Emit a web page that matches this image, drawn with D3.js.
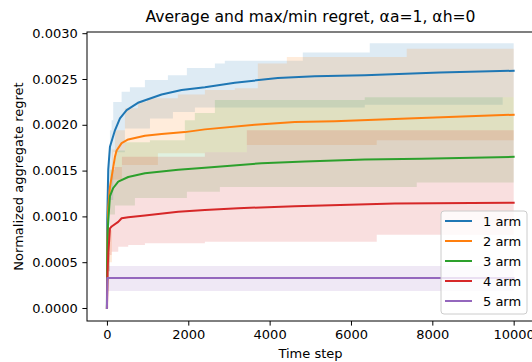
<!DOCTYPE html>
<html>
<head>
<meta charset="utf-8">
<script src="https://cdn.jsdelivr.net/npm/d3@7"></script>
<style>
  html, body { margin: 0; padding: 0; background: #fff; }
  svg { display: block; }
  text { font-family: "DejaVu Sans", sans-serif; fill: #000; }
</style>
</head>
<body>
<svg id="chart" width="532" height="362"></svg>
<script>
// ---- data ----
const armLabels = ["1 arm", "2 arm", "3 arm", "4 arm", "5 arm"];
const xTicks = [0, 2000, 4000, 6000, 8000, 10000];
const yTicks = [0, 0.0005, 0.001, 0.0015, 0.002, 0.0025, 0.003];

// mean curves
const meanT1 = [0, 7, 32, 74, 197, 320, 484, 762, 1344, 1835, 2408, 3145, 4201, 5111, 6339, 8182, 10000];
const meanV1 = [0, 0.00096, 0.00151, 0.00176, 0.00194, 0.00207, 0.00216, 0.00224, 0.00233, 0.00238, 0.00241, 0.00246, 0.00251, 0.00253, 0.00254, 0.00257, 0.00259];
const meanT2 = [0, 12, 32, 74, 197, 238, 361, 523, 934, 1344, 1916, 2408, 3636, 4619, 5602, 7396, 10000];
const meanV2 = [0, 0.00074, 0.0011, 0.00132, 0.00165, 0.00172, 0.0018, 0.00184, 0.00188, 0.0019, 0.00192, 0.00195, 0.002, 0.00203, 0.00204, 0.00207, 0.00211];
const meanT3 = [0, 7, 25, 74, 155, 278, 523, 934, 1752, 2408, 3799, 4865, 6339, 7733, 10000];
const meanV3 = [0, 0.00052, 0.0009, 0.00122, 0.00131, 0.00138, 0.00143, 0.00147, 0.00151, 0.00153, 0.00158, 0.0016, 0.00162, 0.00163, 0.00165];
const meanT4 = [0, 15, 32, 74, 115, 278, 361, 523, 934, 1752, 2408, 3226, 4619, 7076, 10000];
const meanV4 = [0, 0.0004, 0.00058, 0.00087, 0.00089, 0.00094, 0.00098, 0.00099, 0.00101, 0.00105, 0.00107, 0.00109, 0.00111, 0.00114, 0.00115];
const meanT5 = [0, 10, 10000];
const meanV5 = [0, 0.000328, 0.000328];

// max envelopes (step values)
const maxT1 = [0, 12, 37, 74, 115, 155, 361, 565, 934, 1499, 1966, 2654, 2899, 4816, 6462, 10000];
const maxV1 = [0, 0.00063, 0.00161, 0.00194, 0.00205, 0.00225, 0.00236, 0.00241, 0.00249, 0.00254, 0.00262, 0.00267, 0.0027, 0.00279, 0.00289, 0.00289];
const maxT2 = [0, 25, 123, 197, 442, 762, 983, 1744, 2408, 3145, 3710, 4423, 7371, 10000];
const maxV2 = [0, 0.00085, 0.00173, 0.00194, 0.00218, 0.00225, 0.00229, 0.00233, 0.00238, 0.0024, 0.00267, 0.00274, 0.00283, 0.00283];
const maxT3 = [0, 25, 74, 197, 442, 1057, 1916, 2162, 2654, 6339, 10000];
const maxV3 = [0, 0.0006, 0.00151, 0.00172, 0.00181, 0.00183, 0.00205, 0.00213, 0.00227, 0.0023, 0.0023];
const maxT4 = [0, 25, 74, 123, 369, 2408, 3440, 10000];
const maxV4 = [0, 0.00085, 0.0014, 0.00154, 0.00165, 0.0017, 0.00194, 0.00194];
const maxT5 = [0, 10, 10000];
const maxV5 = [0, 0.000459, 0.000459];

// min envelopes (step values)
const minT1 = [0, 12, 37, 74, 155, 442, 1057, 1622, 2162, 6339, 9730, 10000];
const minV1 = [0, 0.0003, 0.0009, 0.00118, 0.0017, 0.00196, 0.00207, 0.00214, 0.00219, 0.00222, 0.0023, 0.0023];
const minT2 = [0, 25, 123, 369, 1253, 2408, 3440, 6634, 10000];
const minV2 = [0, 0.0005, 0.0014, 0.00156, 0.00169, 0.0017, 0.00178, 0.00183, 0.00183];
const minT3 = [0, 25, 74, 197, 688, 1966, 2777, 7617, 10000];
const minV3 = [0, 0.0004, 0.00102, 0.00112, 0.0012, 0.00127, 0.00132, 0.00137, 0.00137];
const minT4 = [0, 37, 74, 115, 278, 523, 934, 2408, 6634, 10000];
const minV4 = [0, 0.0004, 0.000579, 0.000615, 0.000669, 0.000688, 0.000706, 0.000724, 0.0008, 0.0008];
const minT5 = [0, 10, 10000];
const minV5 = [0, 0.000186, 0.000186];

// ---- styling ----
const colors = ["#1f77b4", "#ff7f0e", "#2ca02c", "#d62728", "#9467bd"];
const meanTs = [meanT1, meanT2, meanT3, meanT4, meanT5];
const meanVs = [meanV1, meanV2, meanV3, meanV4, meanV5];
const maxTs = [maxT1, maxT2, maxT3, maxT4, maxT5];
const maxVs = [maxV1, maxV2, maxV3, maxV4, maxV5];
const minTs = [minT1, minT2, minT3, minT4, minT5];
const minVs = [minV1, minV2, minV3, minV4, minV5];

const svg = d3.select("#chart");
const L = 87, R = 534, T = 32, B = 321;
const x = d3.scaleLinear().domain([-500, 10500]).range([L - 0.4, R]);
const y = d3.scaleLinear().domain([-0.000142, 0.003013]).range([B, T]);

const plot = svg.append("g");
const clipId = "clipPlot";
svg.append("defs").append("clipPath").attr("id", clipId)
  .append("rect").attr("x", L).attr("y", T).attr("width", R - L).attr("height", B - T);

// step lookup helper
function stepAt(ts, vs, t) {
  let v = vs[0];
  for (let i = 0; i < ts.length; i++) { if (ts[i] <= t) v = vs[i]; else break; }
  return v;
}

// bands
const area = d3.area()
  .x(d => x(d.t)).y0(d => y(d.lo)).y1(d => y(d.hi))
  .curve(d3.curveStepAfter);
const bands = plot.append("g").attr("clip-path", `url(#${clipId})`);
for (let k = 0; k < 5; k++) {
  const ts = Array.from(new Set([...maxTs[k], ...minTs[k]])).sort((a, b) => a - b);
  const pts = ts.map(t => ({ t, hi: stepAt(maxTs[k], maxVs[k], t), lo: stepAt(minTs[k], minVs[k], t) }));
  bands.append("path").datum(pts)
    .attr("d", area)
    .attr("fill", colors[k]).attr("fill-opacity", 0.15).attr("stroke", "none");
}

// mean lines
const line = d3.line().x(d => x(d[0])).y(d => y(d[1]));
const lines = plot.append("g").attr("clip-path", `url(#${clipId})`);
for (let k = 0; k < 5; k++) {
  const pts = meanTs[k].map((t, i) => [t, meanVs[k][i]]);
  lines.append("path").datum(pts).attr("d", line)
    .attr("fill", "none").attr("stroke", colors[k]).attr("stroke-width", 2)
    .attr("stroke-linejoin", "round").attr("stroke-linecap", "square");
}

// axes
const xAxis = d3.axisBottom(x).tickValues(xTicks).tickFormat(d3.format("d")).tickSize(4.6).tickPadding(4.6);
const yAxis = d3.axisLeft(y).tickValues(yTicks).tickFormat(d3.format(".4f")).tickSize(4.6).tickPadding(4.6);
const gx = svg.append("g").attr("transform", `translate(0,${B})`).call(xAxis);
const gy = svg.append("g").attr("transform", `translate(${L},0)`).call(yAxis);
[gx, gy].forEach(g => {
  g.select(".domain").remove();
  g.selectAll("line").attr("stroke", "#000").attr("stroke-width", 1);
  g.selectAll("text").style("font-family", "DejaVu Sans, sans-serif").style("font-size", "13px").attr("fill", "#000");
});

// frame
svg.append("rect").attr("x", L).attr("y", T).attr("width", R - L).attr("height", B - T)
  .attr("fill", "none").attr("stroke", "#000").attr("stroke-width", 1);

// title and labels
svg.append("text").attr("x", (L + R) / 2).attr("y", 22).attr("text-anchor", "middle")
  .style("font-size", "15.6px").text("Average and max/min regret, αa=1, αh=0");
svg.append("text").attr("x", (L + R) / 2).attr("y", 358).attr("text-anchor", "middle")
  .style("font-size", "13px").text("Time step");
svg.append("text").attr("transform", `translate(23,${(T + B) / 2}) rotate(-90)`).attr("text-anchor", "middle")
  .style("font-size", "13px").text("Normalized aggregate regret");

// legend
const lg = svg.append("g");
lg.append("rect").attr("x", 441).attr("y", 211).attr("width", 86).attr("height", 103)
  .attr("rx", 3).attr("fill", "#fff").attr("fill-opacity", 0.8).attr("stroke", "#cccccc").attr("stroke-width", 1);
armLabels.forEach((lab, i) => {
  const yy = 221 + i * 20;
  lg.append("line").attr("x1", 445).attr("x2", 472).attr("y1", yy).attr("y2", yy)
    .attr("stroke", colors[i]).attr("stroke-width", 2);
  lg.append("text").attr("x", 483).attr("y", yy + 4.7).style("font-size", "13px").text(lab);
});
</script>
</body>
</html>
